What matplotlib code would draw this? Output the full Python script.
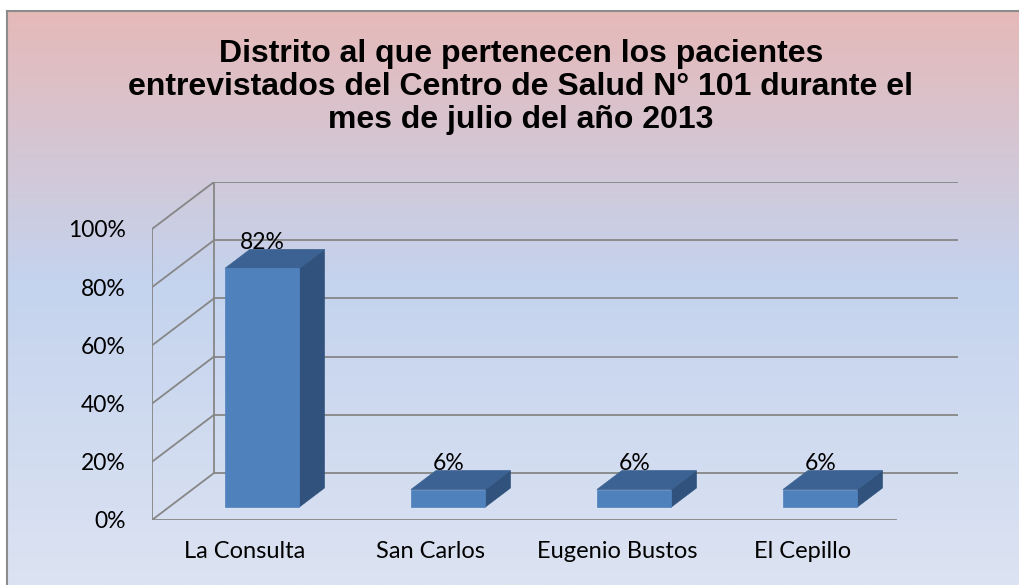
import numpy as np
import matplotlib
matplotlib.use("Agg")
import matplotlib.pyplot as plt
from matplotlib.patches import Polygon
from matplotlib.colors import LinearSegmentedColormap

# data
categories = ["La Consulta", "San Carlos", "Eugenio Bustos", "El Cepillo"]
values = [0.82, 0.06, 0.06, 0.06]
y_ticks = [0.0, 0.2, 0.4, 0.6, 0.8, 1.0]
y_tick_labels = ["0%", "20%", "40%", "60%", "80%", "100%"]
title = ("Distrito al que pertenecen los pacientes\n"
         "entrevistados del Centro de Salud N° 101 durante el\n"
         "mes de julio del año 2013")

# oblique 3D look (depth offset in data units)
DEPTH_X = 1 / 3
DEPTH_Y = 0.1615
BAR_W = 0.4
FRONT = 0.277   # depth fraction of bar front face
BACK = 0.68     # depth fraction of bar back face

GRID = "#868686"
C_FRONT = "#4F81BD"
C_TOP = "#3B6292"
C_SIDE = "#30527C"
TICK_FONT = ["Lato", "DejaVu Sans"]

fig = plt.figure(figsize=(10.2, 5.85), dpi=100)
fig.patch.set_facecolor("white")

# chart area with gradient background
bg = fig.add_axes([7 / 1020, 0, 1 - 7 / 1020, (585 - 11) / 585])
grad = LinearSegmentedColormap.from_list(
    "bg", [(0.0, "#E6B9B8"), (0.47, "#C4D3EE"), (1.0, "#DCE3F2")])
bg.imshow(np.linspace(0, 1, 256).reshape(-1, 1), aspect="auto", cmap=grad,
          extent=[0, 1, 0, 1], origin="upper")
bg.set_xlim(0, 1)
bg.set_ylim(0, 1)
bg.set_xticks([])
bg.set_yticks([])
for side in ["right", "bottom"]:
    bg.spines[side].set_visible(False)
for side in ["left", "top"]:
    bg.spines[side].set_color("#8C8C8C")
    bg.spines[side].set_linewidth(1.5)

ax = fig.add_axes([152 / 1020, 65 / 585, 806 / 1020, 338 / 585])
ax.patch.set_alpha(0)
n = len(categories)
ax.set_xlim(0, n + DEPTH_X)
ax.set_ylim(0, 1 + DEPTH_Y)
for s in ax.spines.values():
    s.set_visible(False)

# walls and gridlines
for v in y_ticks:
    ax.plot([0, DEPTH_X], [v, v + DEPTH_Y], color=GRID, lw=1.3, zorder=1)
    ax.plot([DEPTH_X, n + DEPTH_X], [v + DEPTH_Y, v + DEPTH_Y], color=GRID, lw=1.3, zorder=1)
ax.plot([0, 0], [0, 1], color=GRID, lw=1.3, zorder=1)
ax.plot([DEPTH_X, DEPTH_X], [DEPTH_Y, 1 + DEPTH_Y], color=GRID, lw=1.3, zorder=1)
ax.plot([0, n], [0, 0], color=GRID, lw=1.3, zorder=1)

# bars
for i, v in enumerate(values):
    c = i + 0.5
    xl, xr = c - BAR_W / 2, c + BAR_W / 2
    fx, fy = FRONT * DEPTH_X, FRONT * DEPTH_Y
    bx, by = BACK * DEPTH_X, BACK * DEPTH_Y
    front = [(xl + fx, fy), (xr + fx, fy), (xr + fx, v + fy), (xl + fx, v + fy)]
    top = [(xl + fx, v + fy), (xr + fx, v + fy), (xr + bx, v + by), (xl + bx, v + by)]
    side = [(xr + fx, fy), (xr + bx, by), (xr + bx, v + by), (xr + fx, v + fy)]
    ax.add_patch(Polygon(side, closed=True, facecolor=C_SIDE, edgecolor=C_SIDE, lw=0.5, zorder=3))
    ax.add_patch(Polygon(top, closed=True, facecolor=C_TOP, edgecolor=C_TOP, lw=0.5, zorder=3))
    ax.add_patch(Polygon(front, closed=True, facecolor=C_FRONT, edgecolor=C_FRONT, lw=0.5, zorder=4))
    ax.text(c + fx, v + by + 0.003, f"{v:.0%}", ha="center", va="baseline",
            fontsize=16.5, family=TICK_FONT, color="black", zorder=5)

ax.set_yticks(y_ticks)
ax.set_yticklabels(y_tick_labels, family=TICK_FONT, fontsize=16.5)
ax.set_xticks([i + 0.5 for i in range(n)])
ax.set_xticklabels(categories, family=TICK_FONT, fontsize=17)
ax.tick_params(axis="y", length=0, pad=19)
ax.tick_params(axis="x", length=0, pad=15)

fig.text(521 / 1020, 1 - 87 / 585, title, ha="center", va="center",
         fontsize=23, fontweight="bold", family="Liberation Sans",
         linespacing=1.15)

fig.savefig("out.png", dpi=100)
